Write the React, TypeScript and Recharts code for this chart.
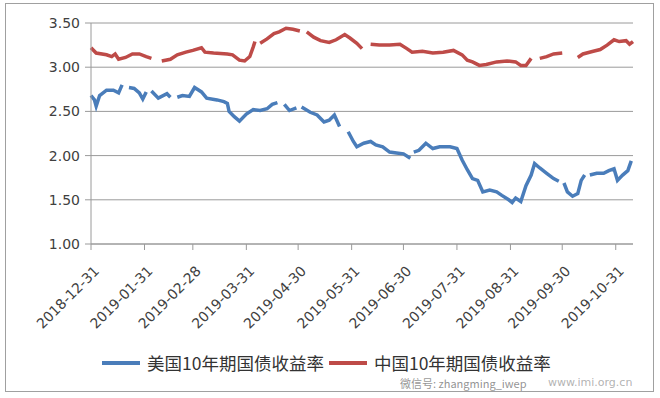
import { LineChart, Line, XAxis, YAxis, CartesianGrid, Legend } from "recharts";

// x values are days after 2018-12-31
const tickDays = [0, 31, 59, 90, 120, 151, 181, 212, 243, 273, 304];
const tickLabels = [
  "2018-12-31", "2019-01-31", "2019-02-28", "2019-03-31", "2019-04-30", "2019-05-31",
  "2019-06-30", "2019-07-31", "2019-08-31", "2019-09-30", "2019-10-31",
];
const yTicks = [1, 1.5, 2, 2.5, 3, 3.5];

// null = holiday gap in the line
const usDays = [
  0, 2, 3, 5, 9, 13, 16, 18, 20, 22, 25, 28, 30, 32, 33, 35, 39, 44, 46, 48,
  50, 53, 57, 60, 64, 67, 73, 77, 79, 80, 83, 86, 90, 94, 98, 102, 105, 108, 110,
  112, 115, 119, 120, 122, 127, 131, 135, 138, 141, 144, 146,
  149, 152, 154, 158, 162, 165, 169, 173, 177, 181, 185, 186,
  187, 190, 194, 198, 202, 208, 212, 215, 218, 221, 224, 227, 231, 235, 238, 242,
  244, 246, 249, 252, 255, 257, 260, 264, 268, 271, 272,
  274, 276, 279, 282, 284, 286, 287, 289, 293, 297, 300, 303, 305, 308, 311, 313,
];
const usYield = [
  2.68, 2.63, 2.56, 2.68, 2.74, 2.74, 2.71, 2.8, null, 2.77, 2.76, 2.71, 2.64, 2.72, null, 2.73, 2.65, 2.7, 2.66, null,
  2.66, 2.68, 2.67, 2.77, 2.72, 2.65, 2.63, 2.61, 2.59, 2.5, 2.44, 2.39, 2.47, 2.52, 2.51, 2.53, 2.58, 2.6, null,
  2.58, 2.51, 2.54, null, 2.55, 2.49, 2.46, 2.38, 2.4, 2.46, 2.33, null,
  2.27, 2.16, 2.1, 2.14, 2.16, 2.12, 2.1, 2.04, 2.03, 2.02, 1.97, null,
  2.04, 2.06, 2.14, 2.08, 2.1, 2.1, 2.08, 1.95, 1.84, 1.74, 1.72, 1.59, 1.61, 1.59, 1.55, 1.5,
  1.47, 1.52, 1.48, 1.66, 1.78, 1.91, 1.86, 1.8, 1.74, 1.71, null,
  1.69, 1.59, 1.54, 1.57, 1.72, 1.78, null, 1.78, 1.8, 1.8, 1.83, 1.85, 1.72, 1.78, 1.83, 1.94,
];

const cnDays = [
  0, 3, 9, 12, 14, 16, 20, 24, 28, 32, 35, 38,
  41, 46, 50, 55, 59, 64, 66, 71, 79, 82, 86, 89, 92, 94, 95, 96,
  98, 102, 106, 109, 113, 117, 121, 123,
  125, 129, 133, 138, 142, 147, 150, 154, 157, 159,
  162, 167, 173, 179, 183, 186, 192, 198, 204, 210, 215, 218, 221, 225, 229, 235, 241, 246, 249, 252, 255, 257,
  260, 264, 268, 273, 277,
  282, 285, 291, 295, 299, 303, 306, 310, 312, 314,
];
const cnYield = [
  3.22, 3.16, 3.14, 3.12, 3.15, 3.09, 3.11, 3.15, 3.15, 3.12, 3.1, null,
  3.07, 3.09, 3.14, 3.17, 3.19, 3.22, 3.17, 3.16, 3.15, 3.14, 3.08, 3.07, 3.12, 3.23, 3.29, null,
  3.27, 3.32, 3.38, 3.4, 3.44, 3.43, 3.41, null,
  3.4, 3.34, 3.3, 3.28, 3.31, 3.37, 3.33, 3.27, 3.21, null,
  3.26, 3.25, 3.25, 3.26, 3.21, 3.17, 3.18, 3.16, 3.17, 3.19, 3.14, 3.08, 3.06, 3.02, 3.03, 3.06, 3.07, 3.06, 3.02, 3.02, 3.1, null,
  3.1, 3.12, 3.15, 3.16, null,
  3.11, 3.15, 3.18, 3.2, 3.25, 3.31, 3.29, 3.3, 3.26, 3.29,
];

const usData = usDays.map((d, i) => ({ day: d, value: usYield[i] }));
const cnData = cnDays.map((d, i) => ({ day: d, value: cnYield[i] }));

const series = [
  { name: "美国10年期国债收益率", data: usData, color: "#4a7dba" },
  { name: "中国10年期国债收益率", data: cnData, color: "#be4b48" },
];

const numFont = "'DejaVu Sans', Verdana, sans-serif";
const cjkFont = "'Noto Sans CJK SC', 'Microsoft YaHei', sans-serif";
const axisGray = "#9a9a9a";

function DateTick({ x, y, payload }: any) {
  const label = tickLabels[tickDays.indexOf(payload.value)] ?? "";
  const ax = x + 9;
  const ay = y + 20;
  return (
    <text x={ax} y={ay} transform={`rotate(-45, ${ax}, ${ay})`} textAnchor="end"
      fontSize={14} fill="#404040" fontFamily={numFont}>
      {label}
    </text>
  );
}

function LegendContent() {
  return (
    <div style={{ display: "flex", alignItems: "center", paddingLeft: 102, height: 20, fontFamily: cjkFont }}>
      {series.map((s) => (
        <div key={s.name} style={{ display: "flex", alignItems: "center", marginRight: 5 }}>
          <div style={{ width: 38, height: 4, background: s.color, marginRight: 7 }} />
          <span style={{ fontSize: 17.5, lineHeight: "20px", color: "#333", whiteSpace: "nowrap" }}>{s.name}</span>
        </div>
      ))}
    </div>
  );
}

export default function App() {
  return (
    <div style={{ position: "absolute", left: 0, top: 0, width: 660, height: 398, background: "#fff" }}>
      <div style={{ position: "absolute", left: 5, top: 3, width: 647, height: 387, border: "1px solid #a0a0a0" }} />
      <LineChart width={660} height={398} margin={{ top: 23, right: 27, left: 0, bottom: 54 }}>
        <CartesianGrid vertical={false} stroke={axisGray} />
        <XAxis dataKey="day" type="number" domain={[0, 314]} ticks={tickDays} allowDuplicatedCategory={false}
          height={100} tickSize={6} stroke={axisGray} tick={<DateTick />} interval={0} />
        <YAxis type="number" domain={[1, 3.5]} ticks={yTicks} width={91} tickSize={6} tickMargin={5}
          stroke={axisGray} tickFormatter={(v: number) => v.toFixed(2)}
          tick={{ fontSize: 14, fill: "#404040", fontFamily: numFont }} />
        <Legend layout="horizontal" verticalAlign="middle" align="center" content={<LegendContent />}
          wrapperStyle={{ left: 0, top: 353, width: 660 }} />
        {series.map((s) => (
          <Line key={s.name} data={s.data} dataKey="value" name={s.name} type="linear" stroke={s.color}
            strokeWidth={3.5} dot={false} connectNulls={false} isAnimationActive={false} />
        ))}
      </LineChart>
      <div style={{ position: "absolute", left: 400, top: 377, fontFamily: cjkFont, fontSize: 11, lineHeight: "12px", color: "rgba(120,120,120,0.8)", whiteSpace: "nowrap" }}>
        微信号: zhangming_iwep
      </div>
      <div style={{ position: "absolute", left: 548, top: 377, fontFamily: numFont, fontSize: 11, lineHeight: "12px", color: "rgba(170,170,170,0.9)", whiteSpace: "nowrap" }}>
        www.imi.org.cn
      </div>
    </div>
  );
}
